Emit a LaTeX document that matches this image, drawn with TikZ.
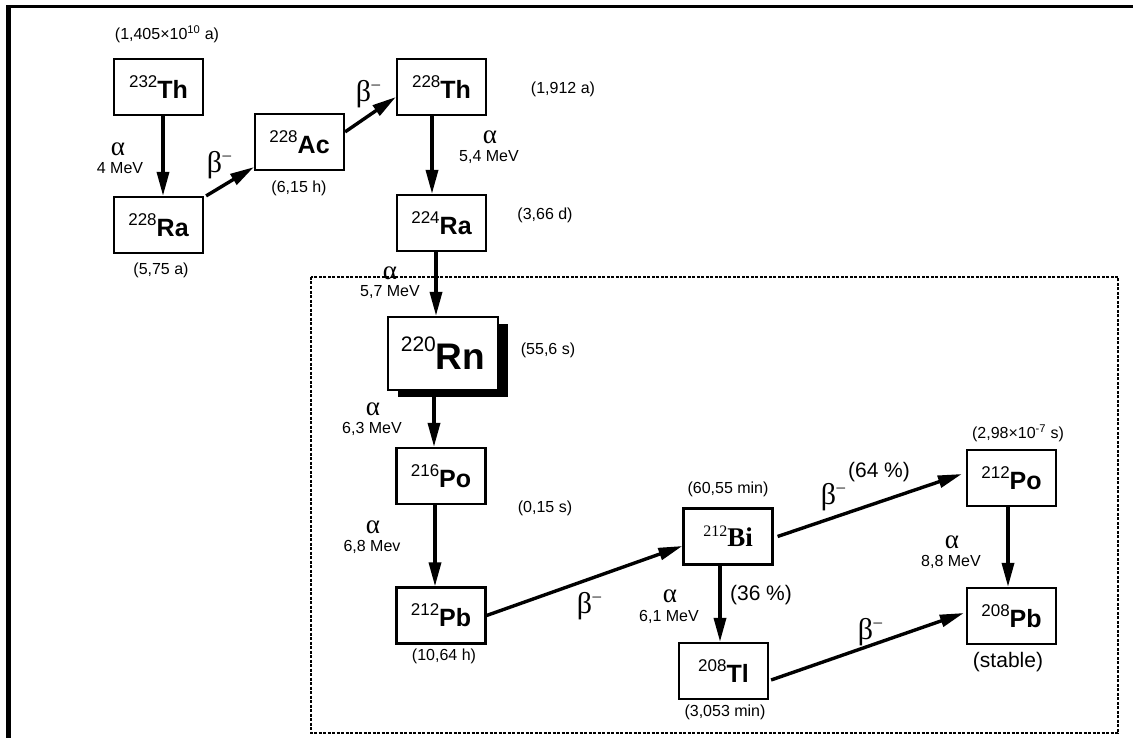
\documentclass[tikz,border=0pt]{standalone}
\usepackage{fontspec}
\setmainfont{Liberation Sans}
\newfontfamily\grk{Liberation Serif}
\newfontfamily\tms{Liberation Serif}
\usetikzlibrary{arrows.meta,shadows}
\newcommand\nuc[2]{\raisebox{11pt}{\fontsize{17}{17}\selectfont #1}{\bfseries\fontsize{25}{25}\selectfont #2}}
\newcommand\betam{β\raisebox{12pt}{\fontsize{17}{17}\selectfont\kern0.5pt –}}
\tikzset{
  nucbox/.style={draw, line width=2.2pt, minimum width=89pt, minimum height=56pt, inner sep=0pt, fill=white},
  arr/.style={line width=3.4pt, -{Triangle[length=24pt,width=12pt]}},
  small/.style={font=\fontsize{16}{16}\selectfont, inner sep=0pt},
  mid/.style={font=\fontsize{21}{21}\selectfont, inner sep=0pt},
  alf/.style={font=\grk\fontsize{27}{27}\selectfont, inner sep=0pt},
  bet/.style={font=\grk\fontsize{30}{30}\selectfont, inner sep=0pt},
}
\begin{document}
\begin{tikzpicture}[x=1pt,y=-1pt]
\useasboundingbox (0,0) rectangle (1133,738);
% outer frame
\fill (6,5) rectangle (1133,8);
\fill (6,5) rectangle (11,738);
% dashed region
\draw[line width=1.2pt, dash pattern=on 3pt off 1.5pt] (311,277) rectangle (1118,733);

% nuclide boxes
\node[nucbox] (th232) at (158.5,87) {\nuc{232}{Th}};
\node[nucbox] (ra228) at (158.5,225) {\nuc{228}{Ra}};
\node[nucbox] (ac228) at (299.5,142) {\nuc{228}{Ac}};
\node[nucbox] (th228) at (441.5,87) {\nuc{228}{Th}};
\node[nucbox] (ra224) at (441.5,223) {\nuc{224}{Ra}};
\node[nucbox, minimum width=110pt, minimum height=73pt,
      drop shadow={shadow xshift=10pt, shadow yshift=-7pt, fill=black, opacity=1}]
      (rn220) at (443,353.5) {\raisebox{18pt}{\fontsize{21}{21}\selectfont 220}{\bfseries\fontsize{37}{37}\selectfont Rn}};
\node[nucbox] (po216) at (441,476) {\nuc{216}{Po}};
\node[nucbox] (pb212) at (441,615.5) {\nuc{212}{Pb}};
\node[nucbox] (bi212) at (728,536.5) {\tms\raisebox{10pt}{\fontsize{16}{16}\selectfont 212}{\bfseries\fontsize{27}{27}\selectfont Bi}};
\node[nucbox] (tl208) at (723.5,671) {\nuc{208}{Tl}};
\node[nucbox] (po212) at (1011.5,478) {\nuc{212}{Po}};
\node[nucbox] (pb208) at (1011.5,616) {\nuc{208}{Pb}};

% connectors
\draw[arr] ([xshift=4.5pt]th232.south) -- ([xshift=4.5pt]ra228.north);
\draw[arr] ([xshift=2pt]ra228.north east) -- ([yshift=4pt]ac228.south west);
\draw[arr] ([yshift=-19pt]ac228.north east) -- ([yshift=-10pt]th228.west);
\draw[arr] ([xshift=-9.5pt]th228.south) -- ([xshift=-9.5pt]ra224.north);
\draw[arr] ([xshift=-5.5pt]ra224.south) -- ([xshift=-7pt]rn220.north);
\draw[arr] ([xshift=-9pt]rn220.south) -- ([xshift=-7pt]po216.north);
\draw[arr] ([xshift=-6pt]po216.south) -- ([xshift=-6pt]pb212.north);
\draw[arr] (pb212.east) -- ([yshift=-9.5pt]bi212.west);
\draw[arr] ([xshift=4pt]bi212.east) -- ([xshift=-4pt,yshift=4pt]po212.west);
\draw[arr] ([xshift=-8pt]bi212.south) -- ([xshift=-3.5pt]tl208.north);
\draw[arr] ([xshift=2pt,yshift=-9pt]tl208.east) -- ([xshift=-2pt,yshift=3pt]pb208.west);
\draw[arr] ([xshift=-3.5pt]po212.south) -- ([xshift=-3.5pt]pb208.north);

% half-lives
\node[small] (hl1) at (167,34) {(1,405×10\textsuperscript{10} a)};
\node[small] (hl2) at (161,270) {(5,75 a)};
\node[small] (hl3) at (299,188) {(6,15 h)};
\node[small] (hl4) at (563,89) {(1,912 a)};
\node[small] (hl5) at (545,215) {(3,66 d)};
\node[small] (hl6) at (548,350) {(55,6 s)};
\node[small] (hl7) at (545,508) {(0,15 s)};
\node[small] (hl8) at (444,656) {(10,64 h)};
\node[small] (hl9) at (728,489) {(60,55 min)};
\node[small] (hl10) at (725,712) {(3,053 min)};
\node[small] (hl11) at (1018,433) {(2,98×10\textsuperscript{-7} s)};
\node[mid] (hl12) at (1008,662) {(stable)};

% decay labels
\node[alf] (a1) at (118,149) {α};
\node[small] (e1) at (120,168) {4 MeV};
\node[alf] (a2) at (490,137) {α};
\node[small] (e2) at (489,157) {5,4 MeV};
\node[alf] (a3) at (390,273) {α};
\node[small] (e3) at (390,292) {5,7 MeV};
\node[alf] (a4) at (373,409) {α};
\node[small] (e4) at (372,429) {6,3 MeV};
\node[alf] (a5) at (373,527) {α};
\node[small] (e5) at (372,547) {6,8 Mev};
\node[alf] (a6) at (670,596) {α};
\node[small] (e6) at (669,617) {6,1 MeV};
\node[alf] (a7) at (952,542) {α};
\node[small] (e7) at (951,562) {8,8 MeV};

\node[bet] (b1) at (219,165) {\betam};
\node[bet] (b2) at (368,94) {\betam};
\node[bet] (b3) at (589,606) {\betam};
\node[bet] (b4) at (833,497) {\betam};
\node[bet] (b5) at (870,632) {\betam};
\node[mid] (p64) at (879,472) {(64 \%)};
\node[mid] (p36) at (761,595) {(36 \%)};
\end{tikzpicture}
\end{document}
